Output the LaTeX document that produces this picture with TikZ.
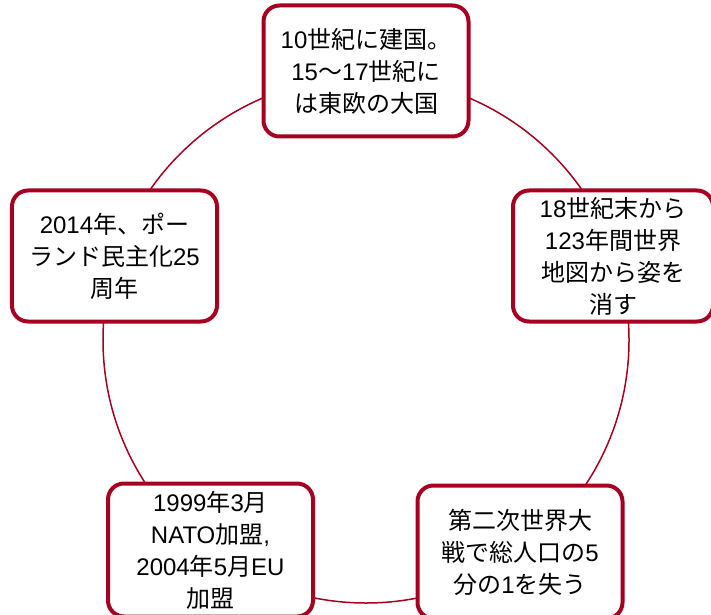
\documentclass[tikz,border=0pt]{standalone}
\usepackage{fontspec}
\setmainfont{Liberation Sans}
\newfontfamily\jp{Noto Sans CJK JP}
\newcommand{\la}[1]{{\rmfamily #1}}
\definecolor{ring}{HTML}{A50021}
\tikzset{
  evbox/.style={draw=ring, line width=4bp, fill=white, rounded corners=16bp,
    minimum width=205bp, minimum height=131bp, align=center, inner sep=2bp,
    font=\jp\fontsize{24bp}{32bp}\selectfont, text=black},
  ringline/.style={draw=ring, line width=1.5bp}
}
\begin{document}
\begin{tikzpicture}[x=1bp,y=-1bp]
\useasboundingbox (0,0) rectangle (711,615);
\coordinate (c) at (366,340);
\draw[ringline] (c) circle [radius=263bp];
\node[evbox] (top) at (366,71) {\la{10}世紀に建国。\\\la{15}〜\la{17}世紀に\\は東欧の大国};
\node[evbox, minimum width=200bp] (right) at (613,256) {\la{18}世紀末から\\\la{123}年間世界\\地図から姿を\\消す};
\node[evbox] (left) at (114.5,256) {\la{2014}年、ポー\\ランド民主化\la{25}\\周年};
\node[evbox, minimum height=133bp] (bl) at (210.5,550) {\la{1999}年\la{3}月\\\la{NATO}加盟\la{,}\\\la{2004}年\la{5}月\la{EU}\\加盟};
\node[evbox, minimum height=133bp] (br) at (520,552) {第二次世界大\\戦で総人口の\la{5}\\分の\la{1}を失う};
\end{tikzpicture}
\end{document}
